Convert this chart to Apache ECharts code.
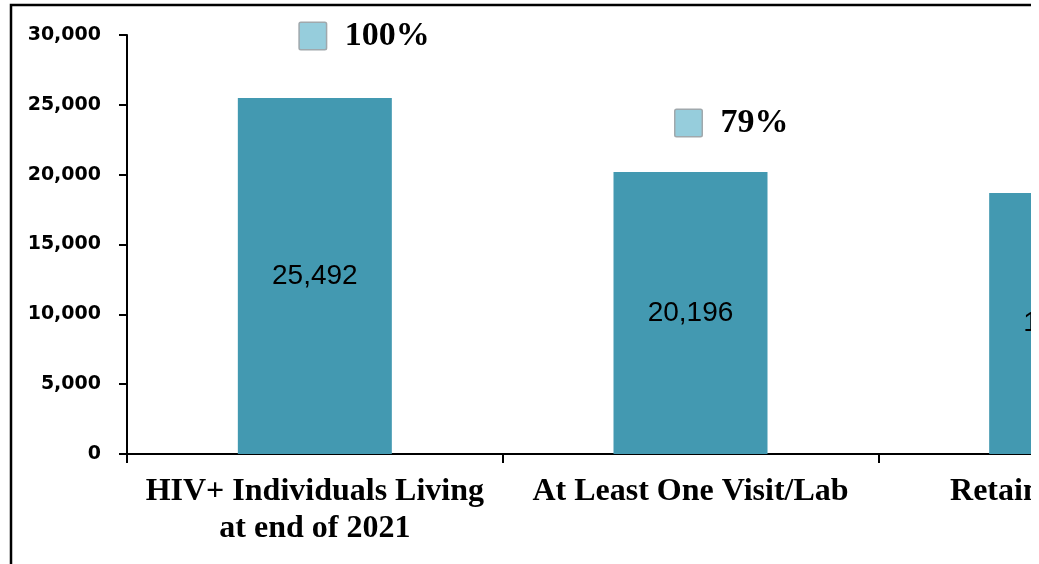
<!DOCTYPE html>
<html>
<head>
<meta charset="utf-8">
<script src="https://cdn.jsdelivr.net/npm/echarts@6/dist/echarts.min.js"></script>
<style>
html,body{margin:0;padding:0;background:#fff;}
#chart{width:1039px;height:564px;}
</style>
</head>
<body>
<div id="chart"></div>
<script>
// ---- data ----
const categories = ['HIV+ Individuals Living\nat end of 2021', 'At Least One Visit/Lab', 'Retained in Care'];
const counts = [25492, 20196, 18687];
const percentLabels = ['100%', '79%', '73%'];
const yTicks = [0, 5000, 10000, 15000, 20000, 25000, 30000];

// ---- styles ----
const pctLift = [62, 49, 49];
const barColor = '#4399B1';

const chart = echarts.init(document.getElementById('chart'), null, {renderer: 'canvas'});

const fmt = v => v.toLocaleString('en-US');

const option = {
  animation: false,
  backgroundColor: '#ffffff',
  grid: {left: 127, top: 35, width: 1127, height: 419, containLabel: false, outerBoundsMode: 'none'},
  xAxis: {
    type: 'category',
    data: categories,
    axisLine: {lineStyle: {color: '#000', width: 2}},
    axisTick: {show: true, length: 9, alignWithLabel: false, interval: 0, lineStyle: {color: '#000', width: 2}},
    axisLabel: {
      interval: 0, margin: 19, hideOverlap: false,
      fontFamily: 'Liberation Serif', fontWeight: 'bold', fontSize: 32, lineHeight: 37, color: '#000'
    }
  },
  yAxis: {
    type: 'value',
    min: yTicks[0], max: yTicks[yTicks.length - 1], interval: yTicks[1] - yTicks[0],
    splitLine: {show: false},
    axisLine: {show: true, lineStyle: {color: '#000', width: 2}},
    axisTick: {show: true, length: 8, lineStyle: {color: '#000', width: 2}},
    axisLabel: {
      margin: 26, formatter: v => fmt(v),
      fontFamily: 'DejaVu Sans', fontWeight: 'bold', fontSize: 19, color: '#000', padding: [3, 0, 0, 0]
    }
  },
  series: [
    {
      type: 'bar',
      data: counts,
      barWidth: 154,
      barGap: '-100%',
      itemStyle: {color: barColor},
      label: {
        show: true, position: 'inside',
        formatter: p => fmt(p.value),
        fontFamily: 'Liberation Sans', fontSize: 28, color: '#000'
      },
      z: 2
    },
    {
      type: 'bar',
      barWidth: 154,
      barGap: '-100%',
      itemStyle: {color: 'rgba(0,0,0,0)'},
      silent: true,
      data: counts.map((v, i) => ({
        value: v,
        label: {
          show: true,
          position: 'top', distance: 0,
          align: 'left', verticalAlign: 'middle',
          offset: [-15, -pctLift[i]],
          formatter: '{box|}{pct|' + percentLabels[i] + '}',
          rich: {
            box: {width: 26, height: 26, backgroundColor: '#96CDDC', borderColor: '#A0A8AC', borderWidth: 1.5, borderRadius: 1},
            pct: {fontFamily: 'Liberation Serif', fontWeight: 'bold', fontSize: 34, color: '#000', padding: [0, 0, 0, 19]}
          }
        }
      })),
      z: 3
    }
  ],
  graphic: [
    {type: 'rect', shape: {x: 11, y: 5, width: 1100, height: 700}, style: {fill: 'none', stroke: '#000', lineWidth: 2.5}, z: 100},
    {type: 'rect', shape: {x: 1031, y: 0, width: 20, height: 564}, style: {fill: '#fff'}, z: 101}
  ]
};
chart.setOption(option);
</script>
</body>
</html>
